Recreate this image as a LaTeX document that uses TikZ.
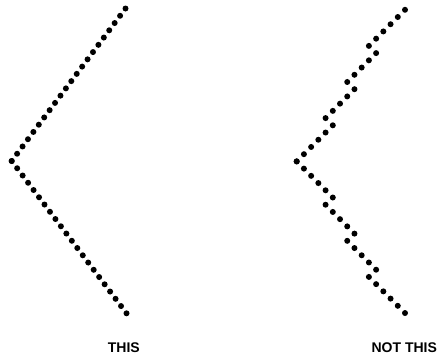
\documentclass[tikz,border=0pt]{standalone}
\usepackage{fontspec}
\setmainfont{Liberation Sans}
\usetikzlibrary{calc}
\tikzset{
  dot/.style={fill=black},
  caption/.style={font=\fontsize{14}{14}\selectfont\bfseries, inner sep=0pt}
}

\begin{document}
\begin{tikzpicture}[x=1pt,y=-1pt]
  \useasboundingbox (0,0) rectangle (439,360);
  % smooth chevron: 21 even steps along each arm
  \coordinate (tip) at (11.7,161);
  \coordinate (top) at (125.5,8.5);
  \coordinate (bot) at (126.5,313.3);
  \foreach \i in {0,...,21} {
    \fill[dot] ($(tip)!\i/21!(top)$) circle (3);
    \fill[dot] ($(tip)!\i/21!(bot)$) circle (3);
  }
  % jagged chevron: dots on a 7.22 grid, stepping back now and then
  \coordinate (jtip) at (296.7,161.4);
  \foreach \k [count=\i from 0] in {0,1,2,3,4,5,4,5,6,7,8,7,8,9,10,11,10,11,12,13,14,15} {
    \fill[dot] ($(jtip)+(7.22*\k,-7.22*\i)$) circle (3);
    \fill[dot] ($(jtip)+(7.22*\k,7.22*\i)$) circle (3);
  }
  \node[caption] (this) at (123.8,347.8) {THIS};
  \node[caption] (notthis) at (404.3,347.8) {NOT THIS};
\end{tikzpicture}
\end{document}
